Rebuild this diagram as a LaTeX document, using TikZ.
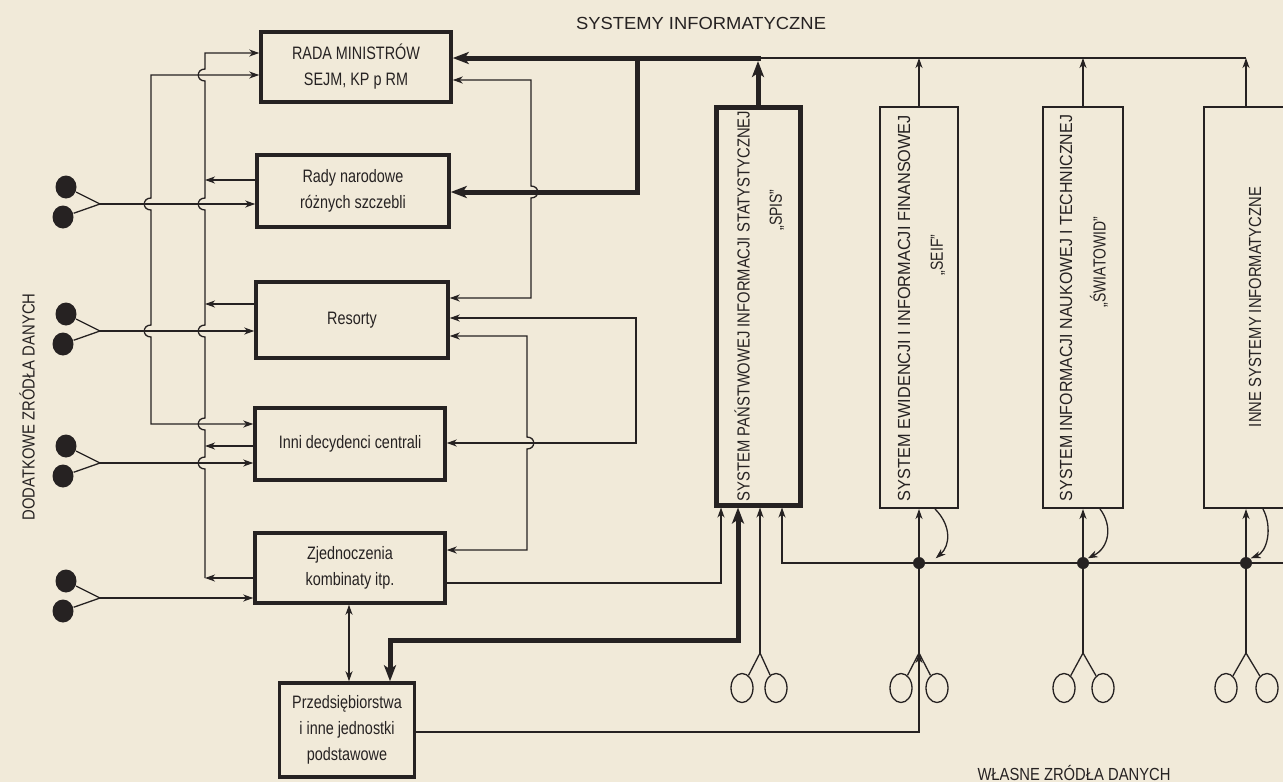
\documentclass[tikz,border=0pt]{standalone}
\usepackage{fontspec}
\setmainfont{Liberation Sans}[FakeStretch=0.8]
\usetikzlibrary{arrows.meta,shapes.geometric}

\definecolor{paper}{RGB}{241,234,217}
\definecolor{ink}{RGB}{38,34,34}

% stretch a line of text to a given length (in pt)
\newlength\fitw
\newcommand\fitline[2]{\settowidth\fitw{#2}\pgfmathparse{#1/\fitw}\scalebox{\pgfmathresult}[1]{#2}}
% hop of a vertical line over a crossing line
\newcommand\hopleft[2]{-- (#1,#2-6) .. controls (#1-9,#2-6) and (#1-9,#2+6) .. (#1,#2+6)}
\newcommand\hopright[2]{-- (#1,#2-6) .. controls (#1+9,#2-6) and (#1+9,#2+6) .. (#1,#2+6)}

\tikzset{every picture/.style={line width=1.3pt}}
\tikzset{
  >={Stealth[length=10pt,width=7pt,inset=3pt]},
  link/.style={draw=ink, line width=1.3pt},
  bigline/.style={draw=ink, line width=5pt},
  unit/.style={draw=ink, line width=3.5pt, align=center, text=ink, inner sep=2pt,
    font=\fontsize{18}{26}\selectfont},
  system/.style={draw=ink, line width=2pt, inner sep=0pt},
  caption/.style={text=ink, inner sep=0pt, font=\fontsize{17.5}{20}\selectfont},
  srcdot/.style={ellipse, fill=ink, minimum width=21pt, minimum height=23pt, inner sep=0pt},
  srcring/.style={ellipse, draw=ink, line width=1.3pt, minimum width=22pt, minimum height=29pt, inner sep=0pt},
  joint/.style={circle, fill=ink, minimum size=12pt, inner sep=0pt}
}

\begin{document}
\begin{tikzpicture}[x=1pt,y=1pt,yscale=-1]
	%set diagram to the size of the page
	\useasboundingbox (0,0) rectangle (1283,782);
	\clip (0,0) rectangle (1283,782);
	\fill[paper] (0,0) rectangle (1283,782);

	%Shape: Rectangle [id:rada]
	\node[unit, minimum width=190pt, minimum height=70pt] (rada) at (356,67) {RADA MINISTRÓW\\SEJM, KP p RM};
	%Shape: Rectangle [id:rady]
	\node[unit, minimum width=192pt, minimum height=72pt] (rady) at (353,191) {Rady narodowe\\różnych szczebli};
	%Shape: Rectangle [id:resorty]
	\node[unit, minimum width=192pt, minimum height=76pt] (resorty) at (352,320) {Resorty};
	%Shape: Rectangle [id:inni]
	\node[unit, minimum width=190pt, minimum height=72pt] (inni) at (350,444) {Inni decydenci centrali};
	%Shape: Rectangle [id:zjedn]
	\node[unit, minimum width=190pt, minimum height=70pt] (zjedn) at (350,568) {Zjednoczenia\\kombinaty itp.};
	%Shape: Rectangle [id:przeds]
	\node[unit, minimum width=135pt, minimum height=94pt] (przeds) at (347,730) {Przedsiębiorstwa\\i inne jednostki\\podstawowe};

	%Shape: Rectangle [id:spis]
	\node[system, line width=5pt, minimum width=84pt, minimum height=398pt] (spis) at (758,306) {};
	%Shape: Rectangle [id:seif]
	\node[system, minimum width=78pt, minimum height=401pt] (seif) at (919,307.5) {};
	%Shape: Rectangle [id:swiat]
	\node[system, minimum width=80pt, minimum height=401pt] (swiat) at (1083,307.5) {};
	%Shape: Rectangle [id:inne]
	\node[system, minimum width=84pt, minimum height=401pt] (inne) at (1246,307.5) {};

	% Text Node
	\node[caption] (title) at (701,23) {\fitline{250}{SYSTEMY INFORMATYCZNE}};
	% Text Node
	\node[caption, rotate=90] (spisname) at (742,306) {\fitline{390}{SYSTEM PAŃSTWOWEJ INFORMACJI STATYSTYCZNEJ}};
	% Text Node
	\node[caption, rotate=90] (spisshort) at (777,210) {„SPIS”};
	% Text Node
	\node[caption, rotate=90] (seifname) at (904,308) {\fitline{386}{SYSTEM EWIDENCJI I INFORMACJI FINANSOWEJ}};
	% Text Node
	\node[caption, rotate=90] (seifshort) at (938,255) {„SEIF”};
	% Text Node
	\node[caption, rotate=90] (swiatname) at (1066,308) {\fitline{386}{SYSTEM INFORMACJI NAUKOWEJ I TECHNICZNEJ}};
	% Text Node
	\node[caption, rotate=90] (swiatshort) at (1099,262) {„ŚWIATOWID”};
	% Text Node
	\node[caption, rotate=90] (innename) at (1255,307) {\fitline{240}{INNE SYSTEMY INFORMATYCZNE}};
	% Text Node
	\node[caption, rotate=90] (extra) at (27,407) {\fitline{227}{DODATKOWE ZRÓDŁA DANYCH}};
	% Text Node
	\node[caption] (own) at (1074,773) {\fitline{193}{WŁASNE ZRÓDŁA DANYCH}};

	%Thick Lines: SPIS to the top
	\draw[bigline, -{Stealth[length=16pt,width=12pt,inset=4pt]}] (spis.north) -- (758,61);
	\draw[bigline, -{Stealth[length=16pt,width=12pt,inset=4pt]}] (760.5,58) -- (rada.east |- 0,58);
	\draw[bigline, -{Stealth[length=16pt,width=12pt,inset=4pt]}] (637,58) -- (637,192) -- (rady.east |- 0,192);
	%Straight Lines: top bus
	\draw[link] (758,58) -- (1246,58);
	\draw[->, link] (seif.north) -- (seif.north |- 0,58);
	\draw[->, link] (swiat.north) -- (swiat.north |- 0,58);
	\draw[->, link] (inne.north) -- (inne.north |- 0,58);

	%Straight Lines: left buses
	\draw[<-, link] (rada.west |- 0,53) -- (205,53) \hopleft{205}{75} \hopleft{205}{204} \hopleft{205}{331} \hopleft{205}{424} \hopleft{205}{463} -- (205,578);
	\draw[<->, link] (rada.west |- 0,75) -- (151,75) \hopleft{151}{204} \hopleft{151}{331} -- (151,424) -- (inni.west |- 0,424);
	\draw[->, link] (rady.west |- 0,180) -- (205,180);
	\draw[->, link] (resorty.west |- 0,304) -- (205,304);
	\draw[->, link] (inni.west |- 0,446) -- (205,446);
	\draw[->, link] (zjedn.west |- 0,578) -- (205,578);

	%Shape: Ellipse pairs, additional sources
	\node[srcdot] (d2u) at (66,187) {};
	\node[srcdot] (d2l) at (63,217) {};
	\coordinate (j2) at (100,204);
	\draw[link] (d2u) -- (j2) -- (d2l);
	\draw[->, link] (j2) -- (rady.west |- j2);
	\node[srcdot] (d3u) at (66,314) {};
	\node[srcdot] (d3l) at (63,344) {};
	\coordinate (j3) at (100,331);
	\draw[link] (d3u) -- (j3) -- (d3l);
	\draw[->, link] (j3) -- (resorty.west |- j3);
	\node[srcdot] (d4u) at (66,446) {};
	\node[srcdot] (d4l) at (63,476) {};
	\coordinate (j4) at (100,463);
	\draw[link] (d4u) -- (j4) -- (d4l);
	\draw[->, link] (j4) -- (inni.west |- j4);
	\node[srcdot] (d5u) at (66,581) {};
	\node[srcdot] (d5l) at (63,611) {};
	\coordinate (j5) at (100,598);
	\draw[link] (d5u) -- (j5) -- (d5l);
	\draw[->, link] (j5) -- (zjedn.west |- j5);

	%Straight Lines: right side of the units
	\draw[<->, link] (rada.east |- 0,80) -- (531,80) \hopright{531}{192} -- (531,298) -- (resorty.east |- 0,298);
	\draw[<->, link] (resorty.east |- 0,318) -- (636,318) -- (636,443) -- (inni.east |- 0,443);
	\draw[<->, link] (resorty.east |- 0,336) -- (527,336) \hopright{527}{443} -- (527,550) -- (zjedn.east |- 0,550);
	\draw[->, link] (zjedn.east |- 0,583) -| (spis.south -| 721,0);
	\draw[<->, link] (zjedn.south -| 349,0) -- (przeds.north -| 349,0);
	\draw[bigline, {Stealth[length=16pt,width=12pt,inset=4pt]}-{Stealth[length=16pt,width=12pt,inset=4pt]}] (spis.south -| 738,0) |- (390,640) -- (przeds.north -| 390,0);

	%Shape: Ellipse pairs, own sources
	\coordinate (jspis) at (760,653);
	\coordinate (jseif) at (919,653);
	\coordinate (jswiat) at (1083,653);
	\coordinate (jinne) at (1246,653);
	\node[srcring] (r1a) at (742,688) {};
	\node[srcring] (r1b) at (776,688) {};
	\node[srcring] (r2a) at (901,688) {};
	\node[srcring] (r2b) at (937,688) {};
	\node[srcring] (r3a) at (1064,688) {};
	\node[srcring] (r3b) at (1103,688) {};
	\node[srcring] (r4a) at (1226,688) {};
	\node[srcring] (r4b) at (1267,688) {};
	\draw[link] (r1a) -- (jspis) -- (r1b);
	\draw[link] (r2a) -- (jseif) -- (r2b);
	\draw[link] (r3a) -- (jswiat) -- (r3b);
	\draw[link] (r4a) -- (jinne) -- (r4b);
	\draw[->, link] (jspis) -- (spis.south -| jspis);
	\draw[->, link] (jseif) -- (seif.south);
	\draw[->, link] (jswiat) -- (swiat.south);
	\draw[->, link] (jinne) -- (inne.south);
	\draw[->, link] (przeds.east |- 0,732) -| (jseif);

	%Straight Lines: exchange bus into SPIS
	\coordinate (busend) at (1290,563);
	\draw[->, link] (busend) -- (782,563) -- (spis.south -| 782,0);
	\node[joint] (kseif) at (919,563) {};
	\node[joint] (kswiat) at (1083,563) {};
	\node[joint] (kinne) at (1246,563) {};
	%Curve Lines
	\draw[->, link] (seif.south -| 935,0) .. controls (952,526) and (950,546) .. ([xshift=12pt]kseif.north east);
	\draw[->, link] (swiat.south -| 1100,0) .. controls (1113,526) and (1109,548) .. (kswiat.north east);
	\draw[->, link] (inne.south -| 1263,0) .. controls (1273,528) and (1267,552) .. (kinne.north east);

\end{tikzpicture}
\end{document}
